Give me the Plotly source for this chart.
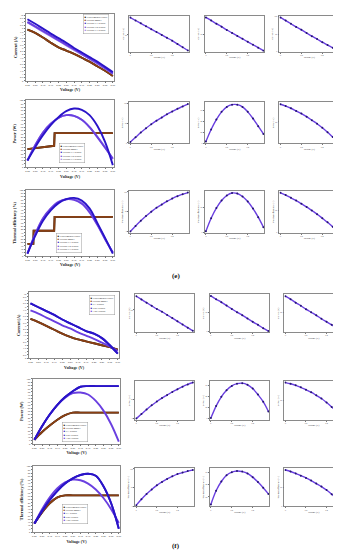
import plotly.graph_objects as go

W, H = 341, 550

# ---------------- data ----------------
V = [0.00, 0.05, 0.10, 0.15, 0.20, 0.25, 0.30, 0.35, 0.40, 0.45, 0.50, 0.55]

# panel (e) – big charts
e_cur_exp = [7.8, 7.3, 6.6, 5.8, 5.1, 4.6, 4.1, 3.5, 2.9, 2.2, 1.5, 0.7]
e_cur_brown = [7.8, 7.3, 6.6, 5.8, 5.1, 4.6, 4.1, 3.5, 2.9, 2.2, 1.5, 0.7]
e_cur_blue = [9.4, 8.7, 7.95, 7.2, 6.5, 5.8, 5.0, 4.3, 3.6, 2.9, 2.1, 1.3]
e_cur_purple = [9.0, 8.3, 7.6, 6.9, 6.2, 5.5, 4.8, 4.1, 3.4, 2.7, 1.9, 1.1]
e_cur_lilac = [8.9, 8.2, 7.5, 6.8, 6.1, 5.4, 4.7, 4.0, 3.3, 2.6, 1.85, 1.05]

e_pow_step_v = [0.00, 0.172, 0.175, 0.55]
e_pow_exp = [27, 32, 51, 51]
e_pow_brown = [27, 32, 51, 51]
e_pow_blue = [10, 30, 48, 63, 75, 84, 88, 86, 78, 62, 38, 3]
e_pow_purple = [10, 33, 52, 65, 74, 78, 77, 71, 60, 45, 29, 13]
e_pow_lilac = [10, 33, 52, 65, 74, 78, 77, 71, 60, 46, 30, 12]

e_eff_step_v = [0.00, 0.038, 0.040, 0.172, 0.175, 0.55]
e_eff_exp = [18, 18, 38, 38, 59, 59]
e_eff_brown = [18, 18, 38, 38, 59, 59]
e_eff_blue = [3, 30, 53, 69, 80, 86, 88, 84, 72, 50, 27, 3]
e_eff_purple = [3, 33, 57, 72, 82, 86, 85, 79, 66, 47, 25, 5]
e_eff_lilac = [3, 32, 56, 71, 81, 86, 86, 81, 68, 48, 26, 4]

# panel (f) – big charts
f_cur_exp = [6.1, 5.6, 5.0, 4.4, 3.8, 3.3, 2.9, 2.6, 2.3, 2.0, 1.7, 1.3]
f_cur_brown = [6.1, 5.6, 5.0, 4.4, 3.8, 3.3, 2.9, 2.6, 2.3, 2.0, 1.7, 1.3]
f_cur_dblue = [8.5, 7.9, 7.3, 6.7, 6.0, 5.4, 4.8, 4.2, 3.8, 3.1, 2.0, 0.7]
f_cur_blue = [8.5, 7.9, 7.3, 6.7, 6.0, 5.4, 4.8, 4.2, 3.8, 3.1, 2.0, 0.7]
f_cur_purple = [7.4, 6.9, 6.3, 5.7, 5.1, 4.6, 4.0, 3.5, 3.0, 2.4, 1.8, 1.1]

f_pow_exp = [6, 18, 28, 37, 44, 48, 48, 48, 48, 48, 48, 48]
f_pow_brown = [6, 18, 28, 37, 44, 48, 48, 48, 48, 48, 48, 48]
f_pow_dblue = [6, 27, 45, 60, 72, 81, 88, 89, 89, 89, 89, 89]
f_pow_blue = [6, 27, 45, 60, 72, 81, 88, 89, 89, 89, 89, 89]
f_pow_purple = [6, 27, 45, 60, 71, 78, 79, 76, 66, 51, 30, 3]

f_eff_exp = [13, 30, 44, 53, 56, 56, 56, 56, 56, 56, 56, 56]
f_eff_brown = [13, 30, 44, 53, 56, 56, 56, 56, 56, 56, 56, 56]
f_eff_dblue = [13, 32, 49, 63, 74, 82, 87, 89, 86, 70, 44, 5]
f_eff_blue = [13, 32, 49, 63, 74, 82, 87, 89, 86, 70, 44, 5]
f_eff_purple = [13, 35, 53, 67, 76, 80, 79, 74, 65, 52, 35, 14]

# small fitted charts (3 per row)
e_small_cur = [[92, 85, 78, 71, 64, 57, 50, 43, 36, 28, 20, 12],
               [95, 87, 78, 70, 61, 53, 45, 37, 29, 21, 13, 5],
               [97, 88, 79, 70, 62, 53, 44, 36, 27, 19, 11, 3]]
e_small_pow = [[2, 14, 26, 37, 47, 56, 64, 72, 79, 86, 92, 98],
               [3, 25, 43, 57, 66, 70, 70, 66, 57, 45, 31, 17],
               [90, 86, 81, 75, 69, 62, 54, 46, 37, 27, 16, 5]]
e_small_eff = [[0, 14, 27, 39, 50, 60, 68, 76, 83, 89, 94, 98],
               [2, 28, 48, 63, 73, 78, 77, 71, 61, 47, 30, 10],
               [88, 83, 77, 71, 64, 57, 49, 41, 32, 23, 13, 3]]
f_small_cur = [[80, 73, 66, 59, 52, 46, 39, 32, 25, 18, 11, 4],
               [95, 86, 78, 69, 60, 51, 43, 34, 25, 17, 8, 0],
               [88, 81, 73, 66, 58, 51, 44, 36, 29, 22, 15, 8]]
f_small_pow = [[0, 12, 24, 35, 45, 54, 62, 70, 77, 84, 90, 95],
               [0, 22, 39, 51, 59, 63, 64, 61, 54, 43, 30, 12],
               [95, 92, 88, 83, 77, 71, 63, 55, 45, 34, 21, 5]]
f_small_eff = [[3, 19, 33, 45, 56, 65, 73, 80, 86, 90, 94, 97],
               [8, 30, 45, 55, 60, 62, 61, 58, 52, 44, 35, 25],
               [95, 91, 86, 80, 74, 67, 59, 51, 42, 31, 18, 2]]

e_names = ["Experimental result", "Present model", "Present F1 results",
           "Present F2 results", "Present F3 results"]
f_names = ["Experimental result", "Present model", "GA results",
           "PSO results", "ABC results"]

# ---------------- styles ----------------
BLACK = "#111111"
BROWN = "#8a3f12"
DBLUE = "#2a14c8"
PURPLE = "#6a3fe0"
LILAC = "#9a80ee"
SERIF = "Liberation Serif"

fig = go.Figure()
layout = dict(width=W, height=H, margin=dict(l=0, r=0, t=0, b=0),
              paper_bgcolor="white", plot_bgcolor="white", showlegend=False,
              annotations=[], font=dict(family=SERIF))
count = [0]


def px_dom(a, b, vertical=False):
    if vertical:
        return [1 - b / H, 1 - a / H]
    return [a / W, b / W]


def add_axes(xpx, ypx, ytitle, yrange, ydtick, big):
    count[0] += 1
    k = count[0]
    sfx = "" if k == 1 else str(k)
    tick_size = 2.6 if big else 2.0
    title_size = 4.2 if big else 2.4
    common = dict(showline=True, linecolor="#8a8a8a", linewidth=0.7, mirror=True,
                  ticks="outside", ticklen=1.2 if big else 1.0, tickwidth=0.5,
                  tickcolor="#777", showgrid=False, zeroline=False,
                  tickfont=dict(size=tick_size, family=SERIF, color="#333"))
    xa = dict(domain=px_dom(*xpx), anchor="y" + sfx, range=[-0.01, 0.56],
              title=dict(text="<b>Voltage (V)</b>" if big else "Voltage (V)",
                         font=dict(size=title_size, family=SERIF, color="#222"),
                         standoff=2 if big else 1),
              **common)
    if big:
        xa.update(tickmode="linear", tick0=0, dtick=0.05, tickformat=".2f")
    else:
        xa.update(nticks=4, showticklabels=True)
    ya = dict(domain=px_dom(*ypx, vertical=True), anchor="x" + sfx, range=yrange,
              title=dict(text="<b>" + ytitle + "</b>" if big else ytitle,
                         font=dict(size=title_size, family=SERIF, color="#222"),
                         standoff=2 if big else 1),
              **common)
    if big:
        ya.update(tickmode="linear", tick0=0, dtick=ydtick)
    else:
        ya.update(nticks=4)
    layout["xaxis" + sfx] = xa
    layout["yaxis" + sfx] = ya
    return "x" + sfx, "y" + sfx


def line(xax, yax, x, y, color, width, shape="spline"):
    fig.add_trace(go.Scatter(x=x, y=y, mode="lines", xaxis=xax, yaxis=yax,
                             line=dict(color=color, width=width, shape=shape),
                             hoverinfo="skip"))


def legend(xpx, ypx, names, colors):
    rows = ["<span style='color:%s'>&#9632;</span> %s" % (c, n)
            for n, c in zip(names, colors)]
    layout["annotations"].append(dict(
        x=xpx / W, y=1 - ypx / H, xref="paper", yref="paper",
        xanchor="left", yanchor="top", align="left", showarrow=False,
        text="<br>".join(rows), font=dict(size=2.6, family=SERIF, color="#222"),
        bordercolor="#999", borderwidth=0.5, bgcolor="white", borderpad=1))


def small(xpx, ypx, ytitle, vals):
    xa, ya = add_axes(xpx, ypx, ytitle, [min(vals) - 3, max(vals) + 4], None, False)
    fig.add_trace(go.Scatter(x=V, y=vals, mode="lines+markers", xaxis=xa, yaxis=ya,
                             line=dict(color=PURPLE, width=1.4, shape="spline"),
                             marker=dict(color="#241670", size=2),
                             hoverinfo="skip"))


LW = 1.9

# ---------------- panel (e) ----------------
xa, ya = add_axes((17, 106), (5, 72), "Current (A)", [0, 10.2], 0.5, True)
line(xa, ya, V, e_cur_exp, BLACK, LW)
line(xa, ya, V, e_cur_brown, BROWN, LW)
line(xa, ya, V, e_cur_lilac, LILAC, LW)
line(xa, ya, V, e_cur_purple, PURPLE, LW)
line(xa, ya, V, e_cur_blue, DBLUE, LW)
legend(74, 5, e_names, [BLACK, BROWN, DBLUE, PURPLE, LILAC])

xa, ya = add_axes((17, 106), (92, 159), "Power (W)", [0, 100], 5, True)
line(xa, ya, e_pow_step_v, e_pow_exp, BLACK, LW, "linear")
line(xa, ya, e_pow_step_v, e_pow_brown, BROWN, LW, "linear")
line(xa, ya, V, e_pow_lilac, LILAC, LW)
line(xa, ya, V, e_pow_purple, PURPLE, LW)
line(xa, ya, V, e_pow_blue, DBLUE, LW)
legend(50, 135, e_names, [BLACK, BROWN, DBLUE, PURPLE, LILAC])

xa, ya = add_axes((17, 106), (182, 248), "Thermal efficiency (%)", [0, 100], 5, True)
line(xa, ya, e_eff_step_v, e_eff_exp, BLACK, LW, "linear")
line(xa, ya, e_eff_step_v, e_eff_brown, BROWN, LW, "linear")
line(xa, ya, V, e_eff_lilac, LILAC, LW)
line(xa, ya, V, e_eff_purple, PURPLE, LW)
line(xa, ya, V, e_eff_blue, DBLUE, LW)
legend(47, 225, e_names, [BLACK, BROWN, DBLUE, PURPLE, LILAC])

small_x_e = [(121, 181), (197, 257), (272, 332)]
for i, vals in enumerate(e_small_cur):
    small(small_x_e[i], (7, 43), "Current (A)", vals)
for i, vals in enumerate(e_small_pow):
    small(small_x_e[i], (94, 135), "Power (W)", vals)
for i, vals in enumerate(e_small_eff):
    small(small_x_e[i], (183, 225), "Thermal efficiency (%)", vals)

# ---------------- panel (f) ----------------
xa, ya = add_axes((20, 111), (285, 351), "Current (A)", [0, 10.2], 0.5, True)
line(xa, ya, V, f_cur_exp, BLACK, LW)
line(xa, ya, V, f_cur_brown, BROWN, LW)
line(xa, ya, V, f_cur_purple, PURPLE, LW)
line(xa, ya, V, f_cur_blue, DBLUE, LW)
line(xa, ya, V, f_cur_dblue, DBLUE, LW)
legend(80, 288, f_names, [BLACK, BROWN, DBLUE, DBLUE, PURPLE])

xa, ya = add_axes((24, 112), (372, 437), "Power (W)", [0, 100], 5, True)
line(xa, ya, V, f_pow_exp, BLACK, LW)
line(xa, ya, V, f_pow_brown, BROWN, LW)
line(xa, ya, V, f_pow_purple, PURPLE, LW)
line(xa, ya, V, f_pow_blue, DBLUE, LW)
line(xa, ya, V, f_pow_dblue, DBLUE, LW)
legend(53, 415, f_names, [BLACK, BROWN, DBLUE, DBLUE, PURPLE])

xa, ya = add_axes((24, 112), (460, 526), "Thermal efficiency (%)", [0, 100], 5, True)
line(xa, ya, V, f_eff_exp, BLACK, LW)
line(xa, ya, V, f_eff_brown, BROWN, LW)
line(xa, ya, V, f_eff_purple, PURPLE, LW)
line(xa, ya, V, f_eff_blue, DBLUE, LW)
line(xa, ya, V, f_eff_dblue, DBLUE, LW)
legend(53, 498, f_names, [BLACK, BROWN, DBLUE, DBLUE, PURPLE])

small_x_f = [(127, 186), (202, 262), (277, 336)]
for i, vals in enumerate(f_small_cur):
    small(small_x_f[i], (287, 325), "Current (A)", vals)
for i, vals in enumerate(f_small_pow):
    small(small_x_f[i], (374, 413), "Power (W)", vals)
for i, vals in enumerate(f_small_eff):
    small(small_x_f[i], (462, 500), "Thermal efficiency (%)", vals)

# panel labels
for txt, ypx in (("(e)", 268), ("(f)", 540)):
    layout["annotations"].append(dict(
        x=168 / W, y=1 - ypx / H, xref="paper", yref="paper", showarrow=False,
        text="<b>" + txt + "</b>", font=dict(size=7, family=SERIF, color="#111"),
        xanchor="center", yanchor="middle"))

fig.update_layout(**layout)
fig.write_html("out.html")
